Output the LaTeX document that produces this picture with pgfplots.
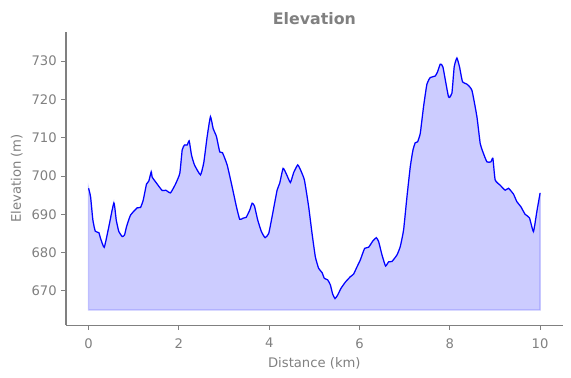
\documentclass[border=0pt]{standalone}
\usepackage{fontspec}
\setmainfont{DejaVu Sans}
\usepackage{pgfplots}
\pgfplotsset{compat=1.18}
\usepackage{pgfplotstable}
\definecolor{txtgray}{HTML}{808080}
\pgfplotstableread{
x y
0.000 696.8
0.044 694.6
0.095 688.5
0.148 685.6
0.228 685.2
0.265 683.7
0.347 681.4
0.449 686.8
0.560 693.0
0.613 688.5
0.670 685.5
0.746 684.2
0.796 684.6
0.841 686.8
0.929 689.8
1.077 691.7
1.150 691.8
1.210 693.7
1.283 697.9
1.334 698.7
1.387 701.1
1.409 699.7
1.482 698.5
1.631 696.2
1.710 696.3
1.814 695.6
1.925 697.9
2.020 700.7
2.073 706.8
2.124 708.1
2.184 708.1
2.228 709.2
2.279 705.5
2.345 702.9
2.478 700.3
2.551 703.5
2.626 710.3
2.699 715.5
2.759 712.4
2.832 710.3
2.905 706.3
2.965 706.1
3.069 702.9
3.179 697.2
3.274 692.0
3.347 688.7
3.423 689.0
3.489 689.2
3.569 691.1
3.622 692.9
3.673 692.2
3.746 688.5
3.827 685.5
3.909 683.9
3.989 685.0
4.064 689.4
4.175 696.3
4.232 698.1
4.308 702.0
4.381 700.5
4.469 698.3
4.542 700.9
4.631 702.9
4.690 701.7
4.779 699.0
4.874 692.0
4.949 685.0
5.022 678.9
5.095 675.9
5.170 674.8
5.221 673.3
5.294 672.9
5.354 671.6
5.405 669.2
5.458 668.0
5.515 668.9
5.591 670.7
5.686 672.3
5.796 673.7
5.869 674.4
5.945 676.3
6.018 678.1
6.113 681.1
6.201 681.4
6.299 683.1
6.372 683.9
6.423 682.9
6.498 679.4
6.577 676.5
6.644 677.6
6.719 677.7
6.830 679.4
6.903 681.6
6.976 685.9
7.051 694.6
7.124 702.4
7.184 706.8
7.235 708.7
7.285 708.9
7.345 711.1
7.418 718.1
7.493 724.0
7.566 725.7
7.677 726.1
7.728 727.2
7.788 729.2
7.847 728.5
7.971 720.7
8.046 721.6
8.097 728.5
8.157 730.8
8.215 728.5
8.281 724.6
8.378 724.0
8.489 722.4
8.600 715.5
8.673 708.5
8.732 706.3
8.821 703.7
8.909 703.7
8.954 704.6
9.004 699.0
9.115 697.6
9.226 696.3
9.299 696.8
9.409 695.3
9.485 693.3
9.573 692.0
9.668 690.0
9.763 689.1
9.852 685.5
9.927 690.7
10.000 695.6
}\elev
\begin{document}
\begin{tikzpicture}
\path[use as bounding box] (-50.1pt,-40.2pt) rectangle (383.3pt,246.7pt);
\begin{axis}[
  at={(0,0)}, anchor=south west,
  scale only axis, width=377pt, height=222.4pt,
  xmin=-0.5, xmax=10.5, ymin=661.1, ymax=737.6,
  axis x line*=bottom, axis y line*=left,
  axis line style={txtgray, line width=0.8pt},
  xtick={0,2,4,6,8,10}, ytick={670,680,690,700,710,720,730},
  tick align=outside, tick style={txtgray, line width=0.8pt},
  major tick length=3.5pt,
  ticklabel style={font=\fontsize{10}{12}\selectfont, text=txtgray},
  xticklabel style={yshift=-3pt},
  /pgf/number format/assume math mode=true,
  /pgf/number format/1000 sep={},
  xlabel={Distance (km)}, ylabel={Elevation (m)},
  label style={font=\fontsize{10}{12}\selectfont, text=txtgray},
  xlabel style={yshift=0pt},
  title={Elevation},
  title style={font=\bfseries\fontsize{12}{14}\selectfont, text=txtgray, at={(0.5,1)}, anchor=base, yshift=0pt},
]
\addplot[fill=blue, fill opacity=0.2, draw=blue, draw opacity=0.2, line width=1pt] table {\elev} -- (axis cs:10,665) -- (axis cs:0,665) -- cycle;
\addplot[blue, line width=0.9pt, smooth, tension=0.3] table {\elev};
\end{axis}
\end{tikzpicture}
\end{document}
